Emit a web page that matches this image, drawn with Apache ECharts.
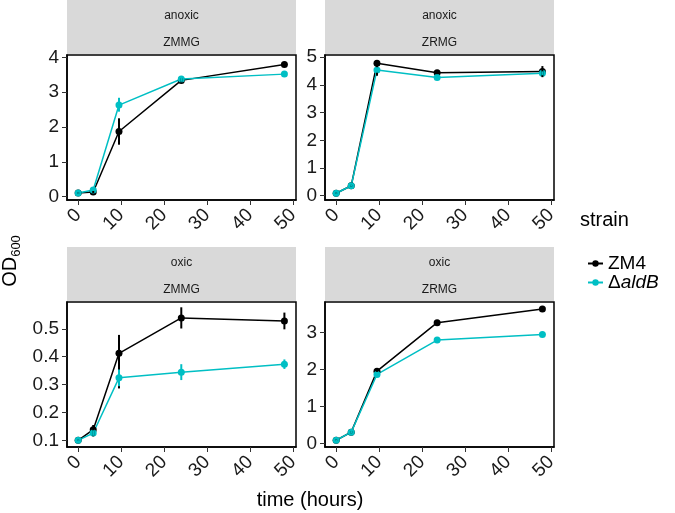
<!DOCTYPE html>
<html>
<head>
<meta charset="utf-8">
<script src="https://cdn.jsdelivr.net/npm/echarts@6/dist/echarts.min.js"></script>
<style>
  html, body { margin: 0; padding: 0; background: #fff; }
  #chart { width: 675px; height: 513px; }
</style>
</head>
<body>
<div id="chart"></div>
<script>
// sampling times (hours)
const timesZMMG = [0, 3.5, 9.5, 24, 48]
const timesZRMG = [0, 3.5, 9.5, 23.5, 48]

// anoxic ZMMG
const anoxZmmgZM4 = [0.1, 0.13, 1.87, 3.34, 3.8]
const anoxZmmgZM4Lo = [0.08, 0.1, 1.49, 3.28, 3.76]
const anoxZmmgZM4Hi = [0.12, 0.16, 2.25, 3.4, 3.84]
const anoxZmmgAld = [0.1, 0.19, 2.63, 3.38, 3.52]
const anoxZmmgAldLo = [0.08, 0.16, 2.44, 3.3, 3.47]
const anoxZmmgAldHi = [0.12, 0.22, 2.84, 3.46, 3.57]

// anoxic ZRMG
const anoxZrmgZM4 = [0.09, 0.36, 4.78, 4.44, 4.48]
const anoxZrmgZM4Lo = [0.07, 0.33, 4.33, 4.39, 4.28]
const anoxZrmgZM4Hi = [0.11, 0.39, 4.85, 4.49, 4.68]
const anoxZrmgAld = [0.09, 0.36, 4.54, 4.27, 4.42]
const anoxZrmgAldLo = [0.07, 0.33, 4.44, 4.2, 4.35]
const anoxZrmgAldHi = [0.11, 0.39, 4.64, 4.34, 4.49]

// oxic ZMMG
const oxZmmgZM4 = [0.1, 0.138, 0.412, 0.539, 0.528]
const oxZmmgZM4Lo = [0.098, 0.114, 0.286, 0.501, 0.498]
const oxZmmgZM4Hi = [0.102, 0.155, 0.478, 0.577, 0.558]
const oxZmmgAld = [0.1, 0.126, 0.324, 0.344, 0.373]
const oxZmmgAldLo = [0.098, 0.116, 0.294, 0.316, 0.356]
const oxZmmgAldHi = [0.102, 0.136, 0.354, 0.373, 0.39]

// oxic ZRMG
const oxZrmgZM4 = [0.09, 0.31, 1.96, 3.27, 3.64]
const oxZrmgZM4Lo = [0.07, 0.28, 1.9, 3.22, 3.6]
const oxZrmgZM4Hi = [0.11, 0.34, 2.02, 3.32, 3.68]
const oxZrmgAld = [0.09, 0.31, 1.87, 2.8, 2.95]
const oxZrmgAldLo = [0.07, 0.28, 1.8, 2.72, 2.9]
const oxZrmgAldHi = [0.11, 0.34, 1.94, 2.88, 3.0]

const xTicks = [0, 10, 20, 30, 40, 50]
const yTicksAnoxZmmg = [0, 1, 2, 3, 4]
const yTicksAnoxZrmg = [0, 1, 2, 3, 4, 5]
const yTicksOxZmmg = [0.1, 0.2, 0.3, 0.4, 0.5]
const yTicksOxZrmg = [0, 1, 2, 3]

const strains = ['ZM4', 'ΔaldB']
const BLACK = '#000000'
const CYAN = '#00BFC4'
const FONT = '"Liberation Sans", Arial, sans-serif'

const panels = [
  { top: 'anoxic', bottom: 'ZMMG', left: 67, y: 55, t: timesZMMG, ymin: -0.1, ymax: 4.07, ticks: yTicksAnoxZmmg,
    a: [anoxZmmgZM4, anoxZmmgZM4Lo, anoxZmmgZM4Hi], b: [anoxZmmgAld, anoxZmmgAldLo, anoxZmmgAldHi] },
  { top: 'anoxic', bottom: 'ZRMG', left: 325, y: 55, t: timesZRMG, ymin: -0.155, ymax: 5.08, ticks: yTicksAnoxZrmg,
    a: [anoxZrmgZM4, anoxZrmgZM4Lo, anoxZrmgZM4Hi], b: [anoxZrmgAld, anoxZrmgAldLo, anoxZrmgAldHi] },
  { top: 'oxic', bottom: 'ZMMG', left: 67, y: 302, t: timesZMMG, ymin: 0.076, ymax: 0.596, ticks: yTicksOxZmmg,
    a: [oxZmmgZM4, oxZmmgZM4Lo, oxZmmgZM4Hi], b: [oxZmmgAld, oxZmmgAldLo, oxZmmgAldHi] },
  { top: 'oxic', bottom: 'ZRMG', left: 325, y: 302, t: timesZRMG, ymin: -0.092, ymax: 3.83, ticks: yTicksOxZrmg,
    a: [oxZrmgZM4, oxZrmgZM4Lo, oxZrmgZM4Hi], b: [oxZrmgAld, oxZrmgAldLo, oxZrmgAldHi] },
]

const PW = 229
const PH = 145

function errBars(idx, name, t, lo, hi, color) {
  return {
    name: name,
    type: 'custom',
    xAxisIndex: idx,
    yAxisIndex: idx,
    data: t.map((x, i) => [x, lo[i], hi[i]]),
    encode: { x: 0, y: [1, 2] },
    z: 3,
    renderItem: (params, api) => {
      const p1 = api.coord([api.value(0), api.value(1)])
      const p2 = api.coord([api.value(0), api.value(2)])
      return {
        type: 'line',
        shape: { x1: p1[0], y1: p1[1], x2: p2[0], y2: p2[1] },
        style: { stroke: color, lineWidth: 2 },
      }
    },
  }
}

function lineSeries(idx, name, t, v, color) {
  return {
    name: name,
    type: 'line',
    xAxisIndex: idx,
    yAxisIndex: idx,
    data: t.map((x, i) => [x, v[i]]),
    symbol: 'circle',
    symbolSize: 7,
    lineStyle: { color: color, width: 1.5 },
    itemStyle: { color: color },
    z: 2,
  }
}

const grid = []
const xAxis = []
const yAxis = []
const series = []
const graphic = []

panels.forEach((p, i) => {
  grid.push({ left: p.left, top: p.y, width: PW, height: PH, show: true, borderColor: '#000', borderWidth: 1.5 })
  xAxis.push({
    type: 'value', gridIndex: i, min: -2.6, max: 50.7,
    axisLine: { show: true, onZero: false, lineStyle: { color: '#000', width: 1.5 } },
    axisTick: { show: true, length: 5, customValues: xTicks, lineStyle: { color: '#333' } },
    axisLabel: { customValues: xTicks, rotate: 45, margin: 12, fontSize: 19, color: '#1a1a1a', fontFamily: FONT },
    splitLine: { show: false },
  })
  yAxis.push({
    type: 'value', gridIndex: i, min: p.ymin, max: p.ymax,
    axisLine: { show: true, onZero: false, lineStyle: { color: '#000', width: 1.5 } },
    axisTick: { show: true, length: 5, customValues: p.ticks, lineStyle: { color: '#333' } },
    axisLabel: { customValues: p.ticks, margin: 8, fontSize: 19, color: '#1a1a1a', fontFamily: FONT },
    splitLine: { show: false },
  })
  series.push(lineSeries(i, strains[0], p.t, p.a[0], BLACK))
  series.push(lineSeries(i, strains[1], p.t, p.b[0], CYAN))
  series.push(errBars(i, 'ZM4 sd', p.t, p.a[1], p.a[2], BLACK))
  series.push(errBars(i, 'aldB sd', p.t, p.b[1], p.b[2], CYAN))

  const sy = p.y === 55 ? 0 : 247
  graphic.push({ type: 'rect', shape: { x: p.left, y: sy, width: PW, height: 54 }, style: { fill: '#D9D9D9' } })
  graphic.push({ type: 'text', x: p.left + PW / 2, y: sy + 16, style: { text: p.top, fontSize: 12, fontFamily: FONT, fill: '#1a1a1a', align: 'center', verticalAlign: 'middle' } })
  graphic.push({ type: 'text', x: p.left + PW / 2, y: sy + 43, style: { text: p.bottom, fontSize: 12, fontFamily: FONT, fill: '#1a1a1a', align: 'center', verticalAlign: 'middle' } })
})

graphic.push({
  type: 'text', x: 10, y: 261, rotation: Math.PI / 2,
  style: {
    text: '{a|OD}{b|600}', align: 'center', verticalAlign: 'middle',
    rich: {
      a: { fontSize: 20, lineHeight: 26, fontFamily: FONT, fill: '#000' },
      b: { fontSize: 13, lineHeight: 13, verticalAlign: 'bottom', fontFamily: FONT, fill: '#000' },
    },
  },
})
graphic.push({ type: 'text', x: 310, y: 500, style: { text: 'time (hours)', fontSize: 20, fontFamily: FONT, fill: '#000', align: 'center', verticalAlign: 'middle' } })
graphic.push({ type: 'text', x: 580, y: 220, style: { text: 'strain', fontSize: 20, fontFamily: FONT, fill: '#000', align: 'left', verticalAlign: 'middle' } })

const chart = echarts.init(document.getElementById('chart'))
chart.setOption({
  animation: false,
  grid: grid,
  xAxis: xAxis,
  yAxis: yAxis,
  legend: {
    data: strains,
    orient: 'vertical',
    left: 582,
    top: 249,
    itemWidth: 15,
    itemHeight: 8,
    itemGap: 0,
    textStyle: {
      fontSize: 19, fontFamily: FONT, color: '#000', lineHeight: 19,
      rich: {
        d: { fontSize: 19, lineHeight: 19, fontFamily: FONT, color: '#000' },
        i: { fontSize: 19, lineHeight: 19, fontFamily: FONT, fontStyle: 'italic', color: '#000' },
      },
    },
    formatter: (name) => (name === 'ΔaldB' ? '{d|Δ}{i|aldB}' : name),
  },
  graphic: graphic,
  series: series,
})
</script>
</body>
</html>
